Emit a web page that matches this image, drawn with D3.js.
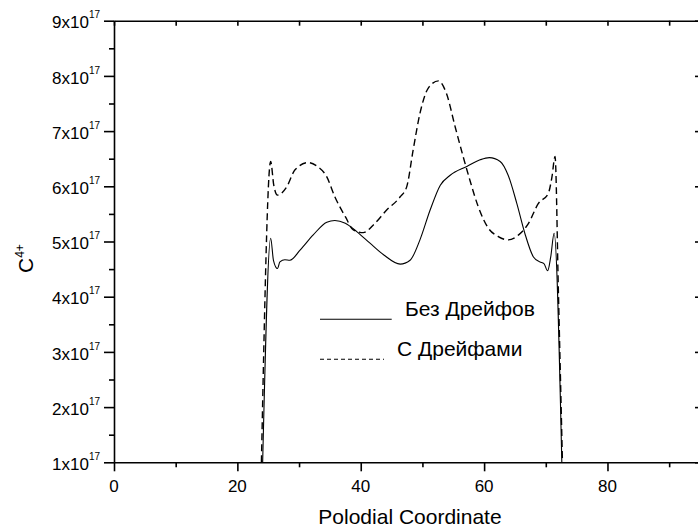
<!DOCTYPE html>
<html><head><meta charset="utf-8">
<script src="https://cdn.jsdelivr.net/npm/d3@7"></script>
<style>body{margin:0;background:#fff}svg{display:block;font-family:"Liberation Sans",Arial,sans-serif}</style>
</head><body>
<svg id="c" width="698" height="528"></svg>
<script>
// values in units of 1e17
const xSolid = [24.1, 25.4, 25.85, 26.5, 26.9, 27.7, 28.5, 30.2, 32.3, 34.5, 35.8, 37.5, 39.35, 41.5, 43.7, 46.4, 48.0, 49.6, 51.25, 52.9, 54.5, 57.2, 59.35, 60.85, 62.6, 63.9, 65.3, 66.6, 68.0, 69.05, 69.7, 70.3, 70.8, 71.35, 72.6];
const ySolid = [1.0, 5.06, 4.66, 4.51, 4.63, 4.67, 4.66, 4.85, 5.12, 5.35, 5.38, 5.33, 5.18, 4.97, 4.76, 4.59, 4.66, 5.03, 5.57, 6.02, 6.20, 6.36, 6.48, 6.52, 6.45, 6.20, 5.69, 5.15, 4.72, 4.63, 4.60, 4.47, 4.72, 5.15, 1.0];
const xDashed = [23.9, 25.4, 25.9, 26.5, 28.0, 29.35, 31.5, 32.85, 34.5, 35.8, 37.5, 38.8, 40.4, 42.05, 44.2, 46.4, 47.45, 48.5, 49.6, 50.95, 52.6, 53.9, 55.3, 56.6, 57.7, 59.05, 60.7, 62.3, 63.9, 65.6, 67.2, 68.8, 70.4, 71.0, 71.5, 72.05, 72.7];
const yDashed = [1.0, 6.45, 6.02, 5.84, 5.99, 6.30, 6.43, 6.37, 6.17, 5.81, 5.45, 5.21, 5.16, 5.30, 5.57, 5.81, 5.99, 6.66, 7.32, 7.78, 7.91, 7.68, 7.08, 6.54, 6.11, 5.63, 5.24, 5.09, 5.03, 5.12, 5.33, 5.69, 5.87, 6.17, 6.54, 4.06, 1.0];
const xTicks = [0, 20, 40, 60, 80];
const xMinor = [10, 30, 50, 70, 90];
const yTicks = [1, 2, 3, 4, 5, 6, 7, 8, 9];
const yMinor = [1.5, 2.5, 3.5, 4.5, 5.5, 6.5, 7.5, 8.5];
const seriesNames = ["Без Дрейфов", "С Дрейфами"];
const xTitle = "Polodial Coordinate";

const svg = d3.select("#c");
const L = 114, R = 700, T = 20.7, B = 462.3;
const x = d3.scaleLinear().domain([0, 95]).range([L, R]);
const y = d3.scaleLinear().domain([1, 9]).range([B, T]);

const line = d3.line().x(d => x(d[0])).y(d => y(d[1])).curve(d3.curveMonotoneX);
svg.append("path").datum(xSolid.map((v, i) => [v, ySolid[i]]))
  .attr("d", line).attr("fill", "none").attr("stroke", "#000").attr("stroke-width", 1.1);
svg.append("path").datum(xDashed.map((v, i) => [v, yDashed[i]]))
  .attr("d", line).attr("fill", "none").attr("stroke", "#000").attr("stroke-width", 1.4)
  .attr("stroke-dasharray", "7,4");

function styleAxis(g) {
  g.selectAll("path,line").attr("stroke", "#000").attr("stroke-width", 1.6);
  g.selectAll("text").remove();
}
// bottom
svg.append("g").attr("transform", `translate(0,${B})`)
  .call(d3.axisBottom(x).tickValues(xTicks).tickSize(9).tickSizeOuter(0)).call(styleAxis);
svg.append("g").attr("transform", `translate(0,${B})`)
  .call(d3.axisBottom(x).tickValues(xMinor).tickSize(5).tickSizeOuter(0)).call(styleAxis)
  .select(".domain").remove();
// top
svg.append("g").attr("transform", `translate(0,${T})`)
  .call(d3.axisTop(x).tickValues(xTicks.concat(xMinor)).tickSize(-5).tickSizeOuter(0)).call(styleAxis);
// left
svg.append("g").attr("transform", `translate(${L},0)`)
  .call(d3.axisLeft(y).tickValues(yTicks).tickSize(10).tickSizeOuter(0)).call(styleAxis);
svg.append("g").attr("transform", `translate(${L},0)`)
  .call(d3.axisLeft(y).tickValues(yMinor).tickSize(5).tickSizeOuter(0)).call(styleAxis)
  .select(".domain").remove();
// right
svg.append("g").attr("transform", `translate(${R},0)`)
  .call(d3.axisRight(y).tickValues(yTicks).tickSize(-5).tickSizeOuter(0)).call(styleAxis);

// x tick labels
svg.append("g").selectAll("text").data(xTicks).join("text")
  .attr("x", d => x(d)).attr("y", B + 29.5).attr("text-anchor", "middle")
  .attr("font-size", 17).text(d => d);
// y tick labels
const yl = svg.append("g").selectAll("text").data(yTicks).join("text")
  .attr("x", 100).attr("y", d => y(d) + 7.6).attr("text-anchor", "end").attr("font-size", 17);
yl.append("tspan").text(d => d + "x10");
yl.append("tspan").attr("font-size", 10).attr("dy", -10).text("17");

// x title
svg.append("text").attr("x", 410).attr("y", 524).attr("text-anchor", "middle")
  .attr("font-size", 21).text(xTitle);
// y title
const yt = svg.append("text").attr("transform", "translate(33.3,273) rotate(-90)").attr("font-size", 21);
yt.append("tspan").text("C");
yt.append("tspan").attr("font-size", 12).attr("dy", -9.5).text("4+");

// legend
svg.append("line").attr("x1", 320).attr("x2", 391.7).attr("y1", 319.3).attr("y2", 319.3)
  .attr("stroke", "#000").attr("stroke-width", 1.1);
svg.append("text").attr("x", 405).attr("y", 315.7).attr("font-size", 21).text(seriesNames[0]);
svg.append("line").attr("x1", 320).attr("x2", 384).attr("y1", 359.3).attr("y2", 359.3)
  .attr("stroke", "#000").attr("stroke-width", 1.1).attr("stroke-dasharray", "4,3");
svg.append("text").attr("x", 397).attr("y", 356).attr("font-size", 21).text(seriesNames[1]);
</script>
</body></html>
